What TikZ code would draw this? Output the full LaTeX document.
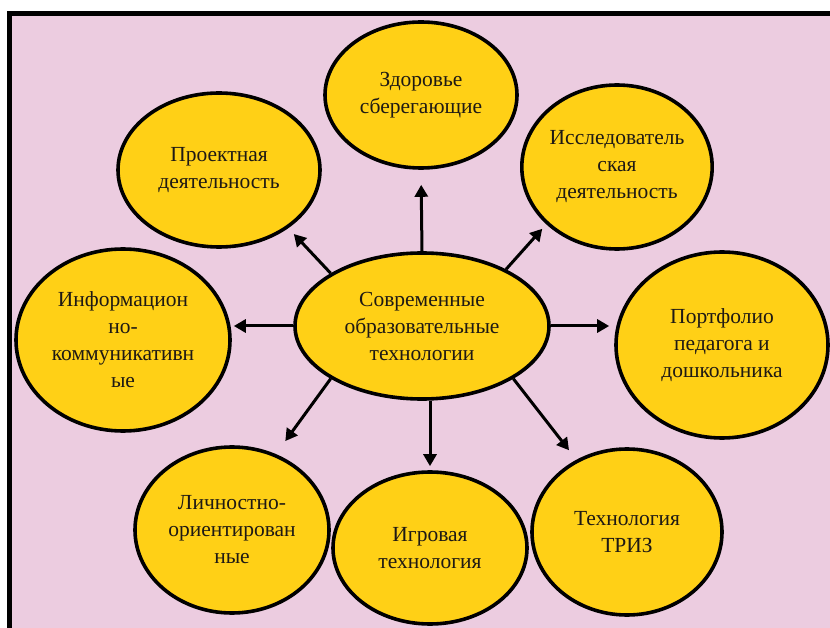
\documentclass[tikz,border=0pt]{standalone}
\usepackage{fontspec}
\setmainfont{Liberation Serif}
\usetikzlibrary{shapes.geometric,arrows.meta}
\definecolor{bgpink}{RGB}{236,204,224}
\definecolor{ovalyellow}{RGB}{255,208,22}
\definecolor{inktext}{RGB}{30,25,20}
\tikzset{
  oval/.style={ellipse, draw=black, line width=3.6pt, fill=ovalyellow, inner sep=0pt,
    align=center, text=inktext, font=\fontsize{21.5}{27}\selectfont},
  link/.style={line width=3pt, draw=black, -{Triangle[length=12pt,width=13pt]}},
}
\begin{document}
\begin{tikzpicture}[x=1pt,y=-1pt]
\useasboundingbox (0,0) rectangle (830,628);
\fill[white] (0,0) rectangle (830,628);
\fill[bgpink] (12,16) rectangle (830,628);
\draw[line width=5pt] (9.5,628) -- (9.5,13.5) -- (830,13.5);

\node[oval, minimum width=254pt, minimum height=146pt] (c) at (422,326) {Современные\\образовательные\\технологии};
\node[oval, minimum width=192pt, minimum height=146pt] (z) at (421,95) {Здоровье\\сберегающие};
\node[oval, minimum width=202pt, minimum height=154pt] (p) at (219,170) {Проектная\\деятельность};
\node[oval, minimum width=190pt, minimum height=164pt] (i) at (617,167) {Исследователь\\ская\\деятельность};
\node[oval, minimum width=214pt, minimum height=182pt] (info) at (123,340) {Информацион\\но-\\коммуникативн\\ые};
\node[oval, minimum width=212pt, minimum height=186pt] (port) at (722,345) {Портфолио\\педагога и\\дошкольника};
\node[oval, minimum width=194pt, minimum height=166pt] (l) at (232,530) {Личностно-\\ориентирован\\ные};
\node[oval, minimum width=194pt, minimum height=152pt] (g) at (430,548) {Игровая\\технология};
\node[oval, minimum width=190pt, minimum height=166pt] (t) at (627,532) {Технология\\ТРИЗ};

\draw[link, shorten >=15pt] (c.north) -- (z.south);
\draw[link, shorten >=8pt] (c.150) -- (p.-40);
\draw[link, shorten >=6pt] (c.34) -- (i.-141);
\draw[link, shorten >=2pt] (c.west) -- (c.west -| info.east);
\draw[link, shorten >=5pt] (c.east) -- (c.east -| port.west);
\draw[link, shorten >=16pt] (c.-150) -- (l.60);
\draw[link, shorten >=4pt] (g.north |- c.south) -- (g.north);
\draw[link, shorten >=12pt] (c.-30) -- (t.125);
\end{tikzpicture}
\end{document}
